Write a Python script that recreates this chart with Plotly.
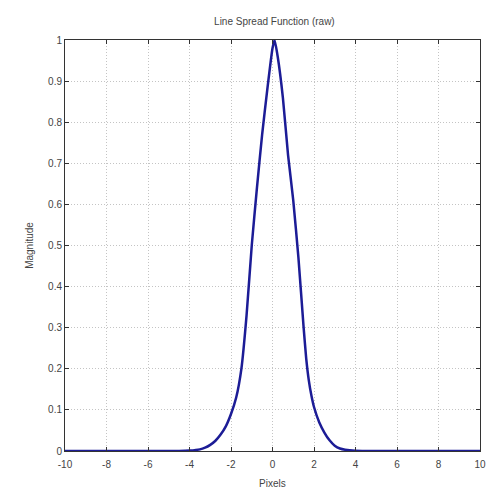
import plotly.graph_objects as go

# Line spread function samples
pixels = [-10, -8, -6, -5, -4.5, -4, -3.5, -3.25, -3, -2.75, -2.5, -2.25, -2, -1.75,
          -1.5, -1.25, -1, -0.75, -0.5, -0.25, 0, 0.1, 0.25, 0.5, 0.75, 1, 1.25,
          1.5, 1.625, 1.75, 1.875, 2, 2.25, 2.5, 2.75, 3, 3.25, 3.5, 4, 4.5, 5, 6, 8, 10]
magnitude = [0, 0, 0, 0, 0, 0.001, 0.004, 0.008, 0.015, 0.025, 0.04, 0.06, 0.09, 0.13,
             0.2, 0.33, 0.5, 0.64, 0.77, 0.88, 0.98, 1.0, 0.96, 0.86, 0.72, 0.61, 0.47,
             0.3, 0.225, 0.172, 0.135, 0.107, 0.07, 0.045, 0.026, 0.013, 0.006, 0.003, 0.0005,
             0, 0, 0, 0, 0]

x_ticks = [-10, -8, -6, -4, -2, 0, 2, 4, 6, 8, 10]
x_tick_labels = ["-10", "-8", "-6", "-4", "-2", "0", "2", "4", "6", "8", "10"]
y_ticks = [0, 0.1, 0.2, 0.3, 0.4, 0.5, 0.6, 0.7, 0.8, 0.9, 1]
y_tick_labels = ["0", "0.1", "0.2", "0.3", "0.4", "0.5", "0.6", "0.7", "0.8", "0.9", "1"]

FONT = "Liberation Sans, Arial, sans-serif"

fig = go.Figure()
fig.add_trace(go.Scatter(
    x=pixels, y=magnitude, mode="lines",
    line=dict(color="#1c1c96", width=2.5, shape="spline", smoothing=0.5),
    showlegend=False, hoverinfo="skip",
))

axis_common = dict(
    showline=True, linecolor="#333333", linewidth=1, mirror="ticks",
    ticks="inside", ticklen=4, tickcolor="#333333",
    showgrid=True, gridcolor="#c4c4c4", griddash="1px,2px", gridwidth=1,
    zeroline=False,
    tickfont=dict(family=FONT, size=10, color="#444444"),
)

fig.update_layout(
    width=490, height=490,
    margin=dict(l=65, r=10, t=40, b=39),
    paper_bgcolor="white", plot_bgcolor="white",
    title=dict(text="Line Spread Function (raw)", x=0.56, xanchor="center", y=0.957, yanchor="middle",
               font=dict(family=FONT, size=10, color="#444444")),
    xaxis=dict(range=[-10, 10], tickvals=x_ticks, ticktext=x_tick_labels,
               ticklabelstandoff=4, automargin=False, **axis_common),
    yaxis=dict(range=[0, 1], tickvals=y_ticks, ticktext=y_tick_labels, automargin=False,
               **axis_common,
               title=dict(text="Magnitude", standoff=12,
                          font=dict(family=FONT, size=10, color="#444444"))),
    annotations=[dict(text="Pixels", xref="paper", yref="paper", x=0.5, y=-0.078,
                      xanchor="center", yanchor="middle", showarrow=False,
                      font=dict(family=FONT, size=10, color="#444444"))],
)

fig.write_html("out.html")
